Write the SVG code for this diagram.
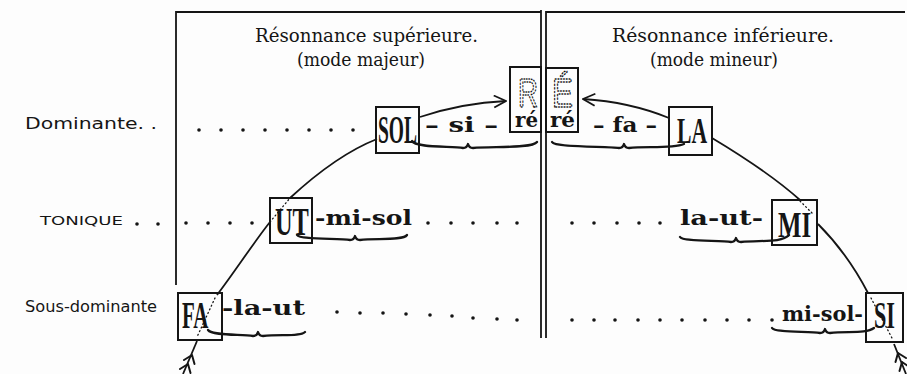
<svg xmlns="http://www.w3.org/2000/svg" width="907" height="374" viewBox="0 0 907 374">
<defs>
<style>
.title{font-family:"DejaVu Serif","Liberation Serif",serif;font-size:18px;fill:#151515}
.lab{font-family:"DejaVu Sans","Liberation Sans",sans-serif;font-size:16px;fill:#151515}
.small{font-family:"DejaVu Sans","Liberation Sans",sans-serif;font-size:13px;fill:#151515}
.note{font-family:"DejaVu Serif","Liberation Serif",serif;font-weight:bold;font-size:20px;fill:#151515}
.big{font-family:"Liberation Serif",serif;font-weight:bold;fill:#151515}
.box{fill:none;stroke:#151515;stroke-width:2}
.frame{fill:none;stroke:#151515;stroke-width:1.8}
.arc{fill:none;stroke:#151515;stroke-width:1.8}
.tail{fill:none;stroke:#151515;stroke-width:2;stroke-linecap:round}
.dotted{fill:none;stroke:#151515;stroke-width:1.3;stroke-dasharray:1 3;stroke-linecap:round}
.hollow{fill:none;stroke:#151515;stroke-width:1.5;stroke-dasharray:1.2 2.4;stroke-linecap:round;font-family:"Liberation Sans",sans-serif}
.brace{fill:none;stroke:#151515;stroke-width:2.3;stroke-linecap:round;stroke-linejoin:round}
.dots circle{fill:#151515}
</style>
<marker id="ah" viewBox="0 0 14 14" refX="13" refY="7" markerWidth="14" markerHeight="14" markerUnits="userSpaceOnUse" orient="auto">
<path d="M1,1 L13,7 L1,13" fill="none" stroke="#151515" stroke-width="1.8"/>
</marker>
</defs>
<rect width="907" height="374" fill="#fdfdfd"/>

<g id="frame">
<path class="frame" d="M176,285 V12 H541"/>
<path class="frame" d="M541,10 V338"/>
<path class="frame" d="M546,338 V12 H905"/>
</g>

<g id="titles">
<text class="title" x="255" y="42" textLength="223" lengthAdjust="spacingAndGlyphs">Résonnance supérieure.</text>
<text class="title" x="297" y="66" textLength="128" lengthAdjust="spacingAndGlyphs">(mode majeur)</text>
<text class="title" x="612" y="42" textLength="222" lengthAdjust="spacingAndGlyphs">Résonnance inférieure.</text>
<text class="title" x="650" y="66" textLength="128" lengthAdjust="spacingAndGlyphs">(mode mineur)</text>
</g>

<g id="row-labels">
<text class="lab" x="25" y="129" textLength="132" lengthAdjust="spacingAndGlyphs">Dominante. .</text>
<text class="small" x="40" y="225" textLength="83" lengthAdjust="spacingAndGlyphs">TONIQUE</text>
<text class="lab" x="25" y="312" textLength="132" lengthAdjust="spacingAndGlyphs">Sous-dominante</text>
</g>

<g id="dots" class="dots">
<circle cx="199" cy="130" r="1.8"/><circle cx="221" cy="130" r="1.8"/><circle cx="243" cy="130" r="1.8"/><circle cx="265" cy="130" r="1.8"/><circle cx="287" cy="130" r="1.8"/><circle cx="309" cy="130" r="1.8"/><circle cx="331" cy="130" r="1.8"/><circle cx="353" cy="130" r="1.8"/>
<circle cx="137" cy="224" r="1.8"/><circle cx="158" cy="224" r="1.8"/>
<circle cx="186" cy="223" r="1.8"/><circle cx="208" cy="223" r="1.8"/><circle cx="230" cy="223" r="1.8"/><circle cx="252" cy="223" r="1.8"/>
<circle cx="428" cy="223" r="1.8"/><circle cx="451" cy="223" r="1.8"/><circle cx="473" cy="223" r="1.8"/><circle cx="497" cy="223" r="1.8"/><circle cx="517" cy="223" r="1.8"/>
<circle cx="572" cy="223" r="1.8"/><circle cx="594" cy="223" r="1.8"/><circle cx="617" cy="223" r="1.8"/><circle cx="639" cy="223" r="1.8"/><circle cx="660" cy="223" r="1.8"/>
<circle cx="337" cy="312" r="1.8"/><circle cx="360" cy="313" r="1.8"/><circle cx="383" cy="313" r="1.8"/><circle cx="406" cy="314" r="1.8"/><circle cx="430" cy="315" r="1.8"/><circle cx="452" cy="316" r="1.8"/><circle cx="473" cy="318" r="1.8"/><circle cx="497" cy="319" r="1.8"/><circle cx="517" cy="320" r="1.8"/>
<circle cx="572" cy="320" r="1.8"/><circle cx="594" cy="320" r="1.8"/><circle cx="615" cy="320" r="1.8"/><circle cx="638" cy="320" r="1.8"/><circle cx="660" cy="320" r="1.8"/><circle cx="682" cy="320" r="1.8"/><circle cx="705" cy="320" r="1.8"/><circle cx="727" cy="320" r="1.8"/><circle cx="749" cy="320" r="1.8"/><circle cx="772" cy="320" r="1.8"/>
</g>

<g id="connectors">
<path class="arc" d="M217,295 C236,270 254,242 270,222"/>
<path class="dotted" d="M270,222 L290,198"/>
<path class="arc" d="M290,198 C316,174 344,152 377,139"/>
<path class="arc" d="M420,117 Q462,103 506,101" marker-end="url(#ah)"/>
<path class="arc" d="M669,118 Q630,102 583,99" marker-end="url(#ah)"/>
<path class="arc" d="M712,138 C742,156 772,175 800,200"/>
<path class="dotted" d="M800,201 L812,213"/>
<path class="arc" d="M818,224 C838,244 855,268 868,293"/>
<path class="dotted" d="M871,298 L893,340"/>
<path class="dotted" d="M215,298 L197,337"/>
<path class="arc" d="M197,341 L183,374"/>
<path class="tail" d="M192,355 l2.5,9 M192,355 l-8,5 M188,364 l2.5,9 M188,364 l-8,5"/>
<path class="arc" d="M894,344 L906,374"/>
<path class="tail" d="M898,353 l8,5 M898,353 l-2.5,9 M902,362 l6,4 M902,362 l-2.5,9"/>
</g>

<g id="braces">
<path class="brace" d="M412,141 C415,148 453,146 463,148 Q467,148 468,144 Q469,148 473,148 C490,146 532,149 537,142"/>
<path class="brace" d="M552,142 C555,148 609,146 619,148 Q623,148 624,144 Q625,148 629,148 C645,146 672,149 684,144"/>
<path class="brace" d="M297,235 C300,240 340,238 350,240 Q354,240 355,236 Q356,240 360,240 C375,238 403,241 407,235"/>
<path class="brace" d="M680,237 C683,242 721,240 731,242 Q735,242 736,238 Q737,242 741,242 C760,240 782,243 789,235"/>
<path class="brace" d="M208,330 C212,336 243,334 253,336 Q257,336 258,332 Q259,336 263,336 C280,334 300,337 305,332"/>
<path class="brace" d="M772,328 C775,333 810,331 820,333 Q824,333 825,329 Q826,333 830,333 C848,331 866,334 874,328"/>
</g>

<g id="node-SOL">
<rect class="box" x="376" y="107" width="43" height="46"/>
<text class="big" transform="translate(378,143) scale(0.5,1)" font-size="39">SOL</text>
</g>
<g id="node-UT">
<rect class="box" x="270" y="198" width="42" height="45"/>
<text class="big" transform="translate(275,235) scale(0.61,1)" font-size="40">UT</text>
</g>
<g id="node-FA">
<rect class="box" x="178" y="293" width="44" height="47"/>
<text class="big" transform="translate(182,328) scale(0.55,1)" font-size="38">FA</text>
</g>
<g id="node-RE-left">
<rect class="box" x="510" y="67" width="31" height="65"/>
<text class="hollow" x="518" y="107" font-size="41" textLength="20" lengthAdjust="spacingAndGlyphs">R</text>
<text class="note" x="515" y="127" textLength="23" lengthAdjust="spacingAndGlyphs">ré</text>
</g>
<g id="node-RE-right">
<rect class="box" x="546" y="68" width="32" height="64"/>
<text class="hollow" x="552" y="107" font-size="41" textLength="21" lengthAdjust="spacingAndGlyphs">É</text>
<text class="note" x="550" y="127" textLength="25" lengthAdjust="spacingAndGlyphs">ré</text>
</g>
<g id="node-LA">
<rect class="box" x="669" y="107" width="43" height="48"/>
<text class="big" transform="translate(677,143) scale(0.62,1)" font-size="35">LA</text>
</g>
<g id="node-MI">
<rect class="box" x="772" y="200" width="45" height="45"/>
<text class="big" transform="translate(778,237) scale(0.69,1)" font-size="36">MI</text>
</g>
<g id="node-SI">
<rect class="box" x="866" y="293" width="37" height="49"/>
<text class="big" transform="translate(874,328) scale(0.585,1)" font-size="38">SI</text>
</g>

<g id="labels">
<text class="note" x="425" y="132" textLength="73" lengthAdjust="spacingAndGlyphs">– si –</text>
<text class="note" x="593" y="132" textLength="64" lengthAdjust="spacingAndGlyphs">– fa –</text>
<text class="note" x="315" y="225" textLength="97" lengthAdjust="spacingAndGlyphs">-mi-sol</text>
<text class="note" x="680" y="225" textLength="83" lengthAdjust="spacingAndGlyphs">la-ut-</text>
<text class="note" x="222" y="315" textLength="83" lengthAdjust="spacingAndGlyphs">-la-ut</text>
<text class="note" x="782" y="321" textLength="81" lengthAdjust="spacingAndGlyphs">mi-sol-</text>
</g>
</svg>
